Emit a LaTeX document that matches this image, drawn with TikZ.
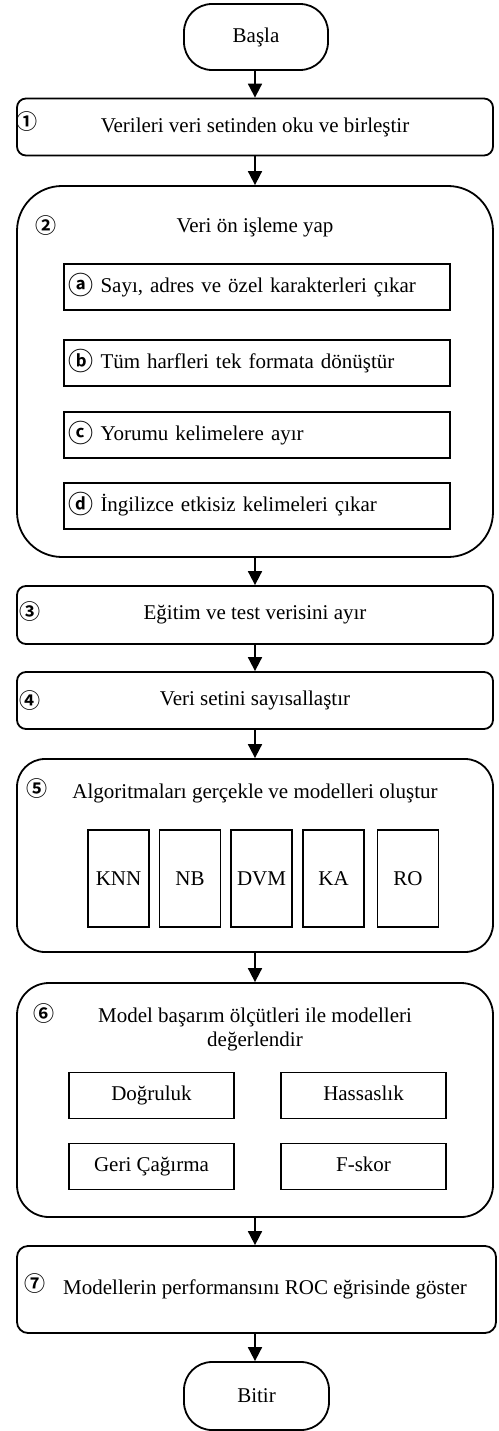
\documentclass[tikz,border=0pt]{standalone}
\usepackage{fontspec}
\setmainfont{Liberation Serif}
\newfontfamily\symfont{Noto Sans CJK JP}[BoldFont=* Bold]
\usetikzlibrary{arrows.meta}
\newcommand{\cletter}[1]{\raisebox{-2.5pt}{\symfont\bfseries\fontsize{25}{21}\selectfont #1}}
\tikzset{
  terminal/.style={draw, line width=1.8pt, rounded corners=28pt, minimum width=144pt, minimum height=66pt},
  stepbox/.style={draw, line width=1.8pt, rounded corners=9pt, minimum width=476pt, minimum height=57pt},
  panel/.style={draw, line width=1.8pt, minimum width=476pt},
  subbox/.style={draw, line width=1.8pt, minimum height=46pt, text width=377pt, inner xsep=4.5pt, align=left, text height=15pt, text depth=5pt},
  algbox/.style={draw, line width=1.8pt, minimum width=61pt, minimum height=97pt, inner sep=0pt},
  metricbox/.style={draw, line width=1.8pt, minimum width=165pt, minimum height=46pt, text height=15pt, text depth=5pt},
  num/.style={inner sep=0pt, font=\symfont\bfseries\fontsize{21}{21}\selectfont},
  flow/.style={-{Triangle[width=14pt,length=14pt]}, line width=1.8pt},
}
\begin{document}
\begin{tikzpicture}[x=1pt,y=1pt,yscale=-1,xscale=1,font=\fontsize{21}{24}\selectfont]
    \useasboundingbox (0,0) rectangle (498,1431);
    % Start
    \node[terminal] (start) at (256,37) {Başla};
    % Step 1
    \node[stepbox] (s1) at (255,127) {Verileri veri setinden oku ve birleştir};
    \node[num] (n1) at (27,122) {①};
    % Step 2: preprocessing panel
    \node[panel, minimum height=371pt, rounded corners=45pt] (s2) at (255,371.5) {};
    \node (t2) at (255,227) {Veri ön işleme yap};
    \node[num] (n2) at (45.5,226) {②};
    \node[subbox] (s2a) at (257,287) {\cletter{ⓐ} Sayı, adres ve özel karakterleri çıkar};
    \node[subbox] (s2b) at (257,363) {\cletter{ⓑ} Tüm harfleri tek formata dönüştür};
    \node[subbox] (s2c) at (257,435) {\cletter{ⓒ} Yorumu kelimelere ayır};
    \node[subbox] (s2d) at (257,506) {\cletter{ⓓ} İngilizce etkisiz kelimeleri çıkar};
    % Step 3
    \node[stepbox, minimum height=58pt] (s3) at (255,615) {Eğitim ve test verisini ayır};
    \node[num] (n3) at (30,611.5) {③};
    % Step 4
    \node[stepbox] (s4) at (255,700.5) {Veri setini sayısallaştır};
    \node[num] (n4) at (30,701) {④};
    % Step 5: algorithms panel
    \node[panel, minimum height=193pt, rounded corners=28pt] (s5) at (255,855.5) {};
    \node (t5) at (255,793) {Algoritmaları gerçekle ve modelleri oluştur};
    \node[num] (n5) at (37.5,789) {⑤};
    \node[algbox] (knn) at (118.5,878.5) {KNN};
    \node[algbox] (nb) at (190,878.5) {NB};
    \node[algbox] (dvm) at (261.5,878.5) {DVM};
    \node[algbox] (ka) at (333.5,878.5) {KA};
    \node[algbox] (ro) at (408,878.5) {RO};
    % Step 6: metrics panel
    \node[panel, minimum height=234pt, rounded corners=32pt] (s6) at (255,1100) {};
    \node[align=center] (t6) at (255,1029) {Model başarım ölçütleri ile modelleri\\değerlendir};
    \node[num] (n6) at (43.5,1014) {⑥};
    \node[metricbox] (acc) at (151.5,1095.5) {Doğruluk};
    \node[metricbox] (prec) at (363.5,1095.5) {Hassaslık};
    \node[metricbox] (rec) at (151.5,1166.5) {Geri Çağırma};
    \node[metricbox] (fsc) at (363.5,1166.5) {F-skor};
    % Step 7
    \node[stepbox, minimum width=479pt, minimum height=87pt, rounded corners=11pt] (s7) at (256.5,1289.5) {};
    \node (t7) at (265,1289) {Modellerin performansını ROC eğrisinde göster};
    \node[num] (n7) at (35,1283.5) {⑦};
    % End
    \node[terminal, minimum width=145pt, minimum height=68pt] (stop) at (256.5,1396) {Bitir};
    % Connectors
    \draw[flow] (start.south -| 255,0) -- (s1.north -| 255,0);
    \draw[flow] (s1) -- (s2);
    \draw[flow] (s2) -- (s3);
    \draw[flow] (s3) -- (s4);
    \draw[flow] (s4) -- (s5);
    \draw[flow] (s5) -- (s6);
    \draw[flow] (s6.south -| 255,0) -- (s7.north -| 255,0);
    \draw[flow] (s7.south -| 255,0) -- (stop.north -| 255,0);
\end{tikzpicture}
\end{document}
